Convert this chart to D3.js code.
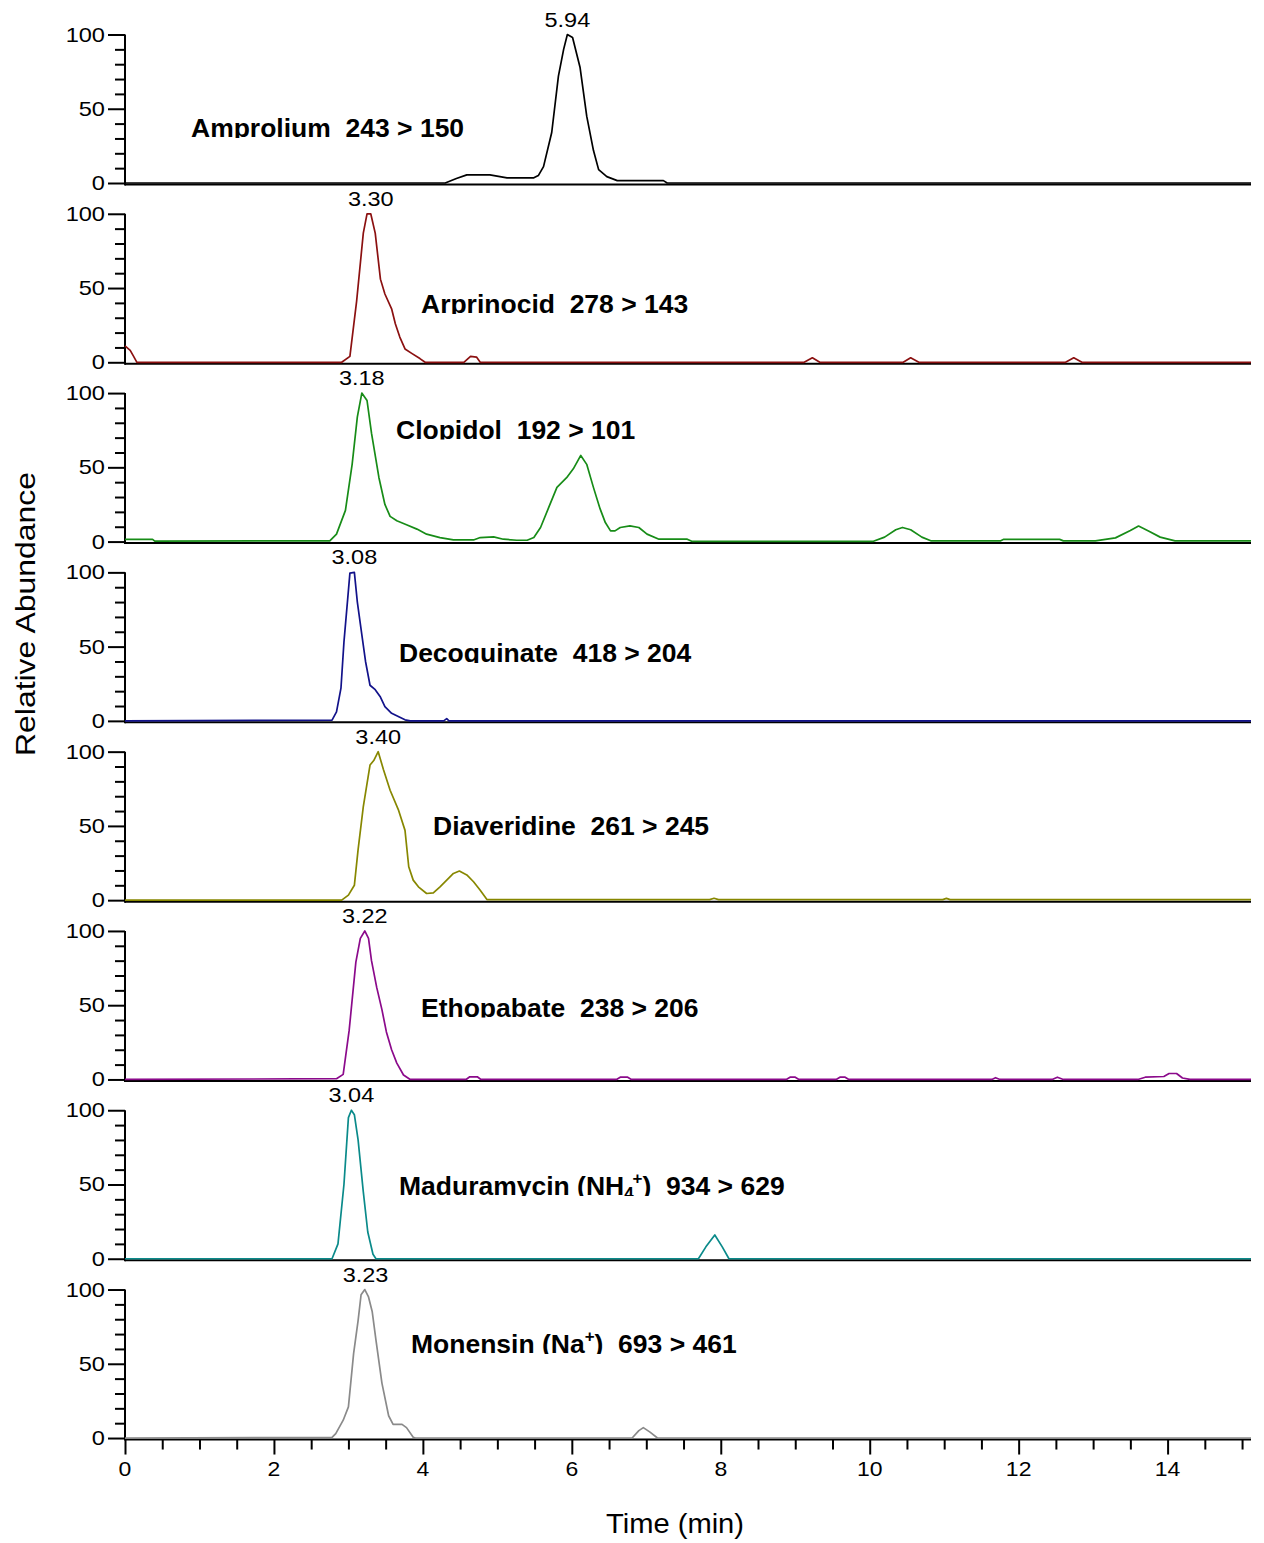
<!DOCTYPE html>
<html><head><meta charset="utf-8">
<script src="https://cdn.jsdelivr.net/npm/d3@7"></script>
<style>
html,body{margin:0;padding:0;background:#fff;}
svg{display:block;font-family:"Liberation Sans",Arial,Helvetica,sans-serif;}
</style></head><body>
<svg id="chart" width="1264" height="1543"></svg>
<script>
// ---------------- DATA ----------------
const compounds = ["Amprolium","Arprinocid","Clopidol","Decoquinate","Diaveridine","Ethopabate","Maduramycin","Monensin"];
// adduct segments: [text, kind]
const adducts = [[],[],[],[],[],[],[["NH","n"],["4","sub"],["+","sup"]],[["Na","n"],["+","sup"]]];
const transitions = ["243 > 150","278 > 143","192 > 101","418 > 204","261 > 245","238 > 206","934 > 629","693 > 461"];
const peakTimes = [5.94,3.30,3.18,3.08,3.40,3.22,3.04,3.23];
const xTickValues = [0,2,4,6,8,10,12,14];
const yTickValues = [0,50,100];

const amproliumTrace = [[0,0],[4.30,0],[4.45,3],[4.59,5.5],[4.90,5.5],[5.13,3.5],[5.49,3.5],[5.55,5],[5.62,11],[5.73,34],[5.82,72],[5.89,90],[5.94,100],[6.01,98],[6.11,78],[6.20,45],[6.29,22],[6.36,9],[6.47,4.3],[6.61,1.6],[7.23,1.6],[7.28,0],[15.12,0]];
const arprinocidTrace = [[0,11],[0.07,8],[0.11,4.5],[0.16,0],[2.91,0],[3.02,4],[3.11,41],[3.20,87],[3.25,100],[3.30,100],[3.36,87],[3.43,56],[3.49,46],[3.58,36],[3.63,26],[3.69,17],[3.76,9],[3.85,6],[3.96,2.5],[4.03,0],[4.55,0],[4.64,4],[4.72,3.5],[4.77,0],[9.12,0],[9.23,3],[9.33,0],[10.45,0],[10.55,3],[10.66,0],[12.63,0],[12.74,3],[12.85,0],[15.12,0]];
const clopidolTrace = [[0,1.5],[0.37,1.5],[0.40,0.3],[2.75,0.5],[2.84,5],[2.96,21],[3.05,52],[3.12,84],[3.18,100],[3.25,95],[3.31,73],[3.41,43],[3.49,25],[3.56,17],[3.65,14],[3.78,11.3],[3.92,8.4],[4.05,5],[4.23,2.7],[4.41,1.1],[4.68,1.1],[4.77,2.7],[4.95,3.2],[5.08,1.6],[5.26,0.9],[5.40,0.9],[5.49,2.7],[5.58,9.5],[5.69,23],[5.80,36.5],[5.93,43],[6.02,49],[6.12,58],[6.20,52],[6.29,36.5],[6.38,22],[6.45,12.8],[6.52,7.2],[6.58,7.2],[6.65,9.5],[6.78,10.6],[6.90,9.5],[7.01,5],[7.17,1.6],[7.55,1.6],[7.61,0.2],[10.05,0.2],[10.2,3],[10.35,8],[10.44,9.5],[10.55,8],[10.7,3],[10.82,0.5],[11.76,0.5],[11.8,1.5],[12.55,1.5],[12.6,0.5],[13.03,0.5],[13.3,2.5],[13.5,7.5],[13.61,10.5],[13.75,7],[13.9,3],[14.1,0.5],[15.12,0.5]];
const decoquinateTrace = [[0,0],[2.78,0.5],[2.84,6],[2.90,22],[2.94,53],[2.99,82],[3.02,99.5],[3.08,100],[3.12,80],[3.18,58],[3.23,40],[3.29,24],[3.36,21],[3.43,16],[3.49,9.6],[3.58,5.1],[3.67,2.9],[3.76,0.7],[3.83,0],[4.28,0],[4.32,1.5],[4.35,0],[15.12,0]];
const diaveridineTrace = [[0,0],[2.91,0],[3.00,3.4],[3.08,10],[3.13,34],[3.20,63],[3.29,91],[3.34,94],[3.40,100],[3.47,88],[3.56,74],[3.67,61],[3.76,47],[3.81,22.5],[3.87,13.5],[3.94,9],[4.05,4.5],[4.14,4.9],[4.23,9],[4.32,13.5],[4.41,18],[4.49,19.6],[4.59,17],[4.68,12.4],[4.77,6.7],[4.86,0.4],[7.85,0.4],[7.91,1.3],[7.97,0.4],[10.98,0.4],[11.03,1.2],[11.08,0.4],[15.12,0.4]];
const ethopabateTrace = [[0,0],[2.84,0.5],[2.93,3.4],[3.01,33],[3.10,79],[3.16,95],[3.22,100],[3.27,95],[3.31,80],[3.38,62],[3.45,47],[3.51,32],[3.58,20],[3.65,11],[3.74,3],[3.83,0],[4.58,0],[4.63,1.8],[4.73,1.8],[4.78,0],[6.6,0],[6.65,1.5],[6.75,1.5],[6.8,0],[8.88,0],[8.93,1.5],[9.0,1.5],[9.05,0],[9.55,0],[9.6,1.5],[9.67,1.5],[9.72,0],[11.64,0],[11.69,1.2],[11.75,0],[12.45,0],[12.52,1.5],[12.6,0],[13.6,0],[13.7,1.5],[13.95,2],[14.02,4],[14.12,4],[14.2,1],[14.3,0],[15.12,0]];
const maduramycinTrace = [[0,0],[2.78,0],[2.86,10],[2.94,50],[3.00,95],[3.04,100],[3.08,97],[3.13,80],[3.20,45],[3.26,18],[3.33,3],[3.37,0],[7.70,0],[7.80,8],[7.92,16],[8.02,8],[8.11,0],[15.12,0]];
const monensinTrace = [[0,0],[2.78,0.5],[2.83,3],[2.93,12],[3.00,21],[3.07,57],[3.13,79],[3.17,96.5],[3.22,100],[3.27,95],[3.32,85],[3.37,66],[3.45,37],[3.54,15],[3.60,9.2],[3.72,9.2],[3.78,7],[3.87,0.5],[3.90,0],[6.81,0],[6.90,5],[6.96,7],[7.05,4],[7.15,0],[15.12,0]];
const traces = [amproliumTrace,arprinocidTrace,clopidolTrace,decoquinateTrace,diaveridineTrace,ethopabateTrace,maduramycinTrace,monensinTrace];

// ---------------- STYLE / LAYOUT ----------------
const colors = ["#000000","#8b1010","#178c17","#12128a","#878700","#8b0a8b","#0a8a8a","#8a8a8a"];
const labelPos = [[191,137],[421,313],[396,438.5],[399,662],[433,835],[421,1016.5],[399,1195],[411,1353]];
const panelZero0 = 183, panelStep = 179.29, panelHeight = 148.5;

const svg = d3.select("#chart");
const x = d3.scaleLinear().domain([0,15.12]).range([125,1251]);
const line = d3.line();

compounds.forEach((name,i)=>{
  const y0 = panelZero0 + i*panelStep;
  const y = d3.scaleLinear().domain([0,100]).range([y0, y0-panelHeight]);
  const g = svg.append("g");

  // minor y ticks
  const minor = d3.axisLeft(y).tickValues(d3.range(10,100,10).filter(v=>v!==50)).tickSize(10).tickSizeOuter(0).tickFormat("");
  const ga = g.append("g").attr("transform","translate(125,0)").call(minor);
  ga.select(".domain").remove();
  ga.selectAll("line").attr("stroke","#000").attr("stroke-width",2);
  const major = d3.axisLeft(y).tickValues(yTickValues).tickSize(17).tickSizeOuter(0).tickFormat("");
  const gm = g.append("g").attr("transform","translate(125,0)").call(major);
  gm.select(".domain").remove();
  gm.selectAll("line").attr("stroke","#000").attr("stroke-width",2);
  // y tick labels
  g.selectAll("text.ytl").data(yTickValues).join("text")
    .attr("class","ytl")
    .attr("transform",d=>`translate(105,${y(d)+7}) scale(1.18,1)`)
    .attr("text-anchor","end").attr("font-size",20).attr("fill","#000")
    .text(d=>d);

  // vertical axis line
  g.append("line").attr("x1",125).attr("x2",125).attr("y1",y(100)).attr("y2",y0+2.5)
    .attr("stroke","#000").attr("stroke-width",2);
  // horizontal baseline
  g.append("line").attr("x1",x(0)).attr("x2",x(15.12)).attr("y1",y0+1.5).attr("y2",y0+1.5)
    .attr("stroke","#000").attr("stroke-width",2);

  // trace
  line.x(d=>x(d[0])).y(d=>y(d[1]));
  g.append("path").datum(traces[i]).attr("d",line)
    .attr("fill","none").attr("stroke",colors[i]).attr("stroke-width",1.7).attr("stroke-linejoin","round");

  // peak label
  g.append("text")
    .attr("transform",`translate(${x(peakTimes[i])},${y(100)-8}) scale(1.12,1)`)
    .attr("text-anchor","middle").attr("font-size",21).attr("fill","#000")
    .text(peakTimes[i].toFixed(2));

  // compound label (clipped at baseline like the original)
  const [lx,ly] = labelPos[i];
  const cid = "clip"+i;
  svg.append("clipPath").attr("id",cid).append("rect")
    .attr("x",0).attr("y",ly-40).attr("width",1264).attr("height",41);
  const lg = g.append("g").attr("clip-path",`url(#${cid})`);
  const t = lg.append("text")
    .attr("transform",`translate(${lx},${ly}) scale(1.06,1)`)
    .attr("font-size",25).attr("font-weight","bold").attr("fill","#000")
    .style("white-space","pre");
  if (adducts[i].length===0){
    t.append("tspan").text(name+"  "+transitions[i]);
  } else {
    t.append("tspan").text(name+" (");
    let cur = 0;
    adducts[i].forEach(([s,k])=>{
      const target = k==="sub"?4:(k==="sup"?-11:0);
      const ts = t.append("tspan").attr("dy",target-cur).text(s);
      if (k!=="n") ts.attr("font-size",16);
      if (k==="sup" && adducts[i].some(a=>a[1]==="sub")) ts.attr("dx",-1);
      cur = target;
    });
    t.append("tspan").attr("dy",-cur).text(")  "+transitions[i]);
  }

  // bottom x axis
  if (i===compounds.length-1){
    const minorVals = d3.range(1,31).map(k=>k*0.5).filter(v=>v%2!==0);
    const xm = g.append("g").attr("transform",`translate(0,${y0+1.5})`)
      .call(d3.axisBottom(x).tickValues(minorVals).tickSize(10).tickSizeOuter(0).tickFormat(""));
    xm.select(".domain").remove();
    xm.selectAll("line").attr("stroke","#000").attr("stroke-width",2);
    const xM = g.append("g").attr("transform",`translate(0,${y0+1.5})`)
      .call(d3.axisBottom(x).tickValues(xTickValues).tickSize(15).tickSizeOuter(0).tickFormat(""));
    xM.select(".domain").remove();
    xM.selectAll("line").attr("stroke","#000").attr("stroke-width",2);
    g.selectAll("text.xtl").data(xTickValues).join("text")
      .attr("class","xtl")
      .attr("transform",d=>`translate(${x(d)},${y0+38}) scale(1.15,1)`)
      .attr("text-anchor","middle").attr("font-size",20).attr("fill","#000")
      .text(d=>d);
  }
});

// axis titles
svg.append("text")
  .attr("transform","translate(35,614) rotate(-90)")
  .attr("text-anchor","middle").attr("font-size",28).attr("fill","#000")
  .attr("textLength",284).attr("lengthAdjust","spacingAndGlyphs")
  .text("Relative Abundance");
svg.append("text")
  .attr("x",675).attr("y",1533)
  .attr("text-anchor","middle").attr("font-size",27).attr("fill","#000")
  .attr("textLength",138).attr("lengthAdjust","spacingAndGlyphs")
  .text("Time (min)");
</script>
</body></html>
